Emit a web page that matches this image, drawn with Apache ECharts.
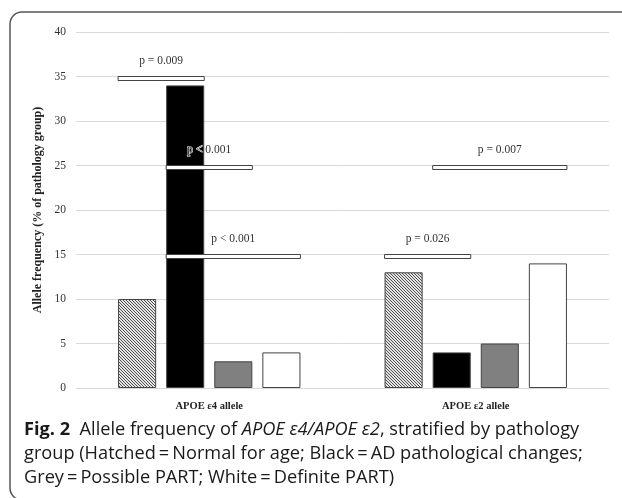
<!DOCTYPE html>
<html><head><meta charset="utf-8">
<script src="https://cdn.jsdelivr.net/npm/echarts@6/dist/echarts.min.js"></script>
<style>html,body{margin:0;padding:0;background:#fff}#c{width:622px;height:498px}</style>
</head><body><div id="c"></div>
<script>
// ---- data ----
const categories = ['APOE \u03b54 allele', 'APOE \u03b52 allele'];
const groupNames = ['Normal for age', 'AD pathological changes', 'Possible PART', 'Definite PART'];
const normalForAge = [10, 13];
const adChanges = [34, 4];
const possiblePART = [3, 5];
const definitePART = [4, 14];
const yMin = 0, yMax = 40, yStep = 5;
// significance brackets
const sigCategory = [0, 0, 0, 1, 1];
const sigFromBar = [0, 1, 1, 0, 1];
const sigToBar = [1, 2, 3, 1, 3];
const sigValue = [35, 25, 15, 15, 25];
const sigText = ['p = 0.009', 'p < 0.001', 'p < 0.001', 'p = 0.026', 'p = 0.007'];

// ---- styling ----
const BAR_W = 0.1429;   // fraction of band
const BAR_GAP = 0.263;  // fraction of bar width
const SERIF = '"Liberation Serif", "DejaVu Serif", serif';
const SANS = '"Open Sans", "Noto Sans", sans-serif';
const CAP_SIZE = 18.2;

function hatch() {
  const c = document.createElement('canvas');
  c.width = 6; c.height = 6;
  const ctx = c.getContext('2d');
  const img = ctx.createImageData(6, 6);
  for (let y = 0; y < 6; y++) for (let x = 0; x < 6; x++) {
    const d = ((x - y) % 3 + 3) % 3 === 0;
    const v = d ? 80 : 228;
    const i = (y * 6 + x) * 4;
    img.data[i] = v; img.data[i + 1] = v; img.data[i + 2] = v; img.data[i + 3] = 255;
  }
  ctx.putImageData(img, 0, 0);
  return c;
}

const fills = [{ image: hatch(), repeat: 'repeat' }, '#000000', '#808080', '#ffffff'];
const values = [normalForAge, adChanges, possiblePART, definitePART];

const chart = echarts.init(document.getElementById('c'), null, { renderer: 'canvas' });

const barSeries = values.map((vals, k) => ({
  name: groupNames[k],
  type: 'bar',
  data: vals,
  barWidth: (BAR_W * 100) + '%',
  barGap: (BAR_GAP * 100) + '%',
  itemStyle: { color: fills[k], borderColor: '#444', borderWidth: 1 },
  z: 2
}));

const sigData = sigCategory.map((c, i) => [c, sigValue[i], sigFromBar[i], sigToBar[i]]);

const sigSeries = {
  type: 'custom',
  data: sigData,
  encode: { x: 0, y: 1 },
  z: 5,
  renderItem: function (params, api) {
    const cat = api.value(0), v = api.value(1), from = api.value(2), to = api.value(3);
    const pt = api.coord([cat, v]);
    const band = api.size([1, 0])[0];
    const w = band * BAR_W, g = w * BAR_GAP;
    const total = 4 * w + 3 * g;
    const x0 = pt[0] - total / 2 + from * (w + g);
    const x1 = pt[0] - total / 2 + to * (w + g) + w;
    return {
      type: 'group',
      children: [
        { type: 'rect', shape: { x: x0, y: pt[1], width: x1 - x0, height: 4 },
          style: { fill: '#fff', stroke: '#444', lineWidth: 1 } },
        { type: 'text',
          style: { text: sigText[params.dataIndex], x: (x0 + x1) / 2, y: pt[1] - 16,
            align: 'center', verticalAlign: 'middle', textAlign: 'center', textVerticalAlign: 'middle',
            fontFamily: SERIF, fontSize: 11.5, fill: '#333', stroke: '#fff', lineWidth: 1 } }
      ]
    };
  }
};

const rich = {
  b: { fontFamily: SANS, fontSize: CAP_SIZE, fontWeight: 'bold', fill: '#1a1a1a', color: '#1a1a1a' },
  i: { fontFamily: SANS, fontSize: CAP_SIZE, fontStyle: 'italic', fill: '#1a1a1a', color: '#1a1a1a' },
  n: { fontFamily: SANS, fontSize: CAP_SIZE, fill: '#1a1a1a', color: '#1a1a1a' }
};
function cap(text, y) {
  return { type: 'text', left: 24, top: y,
    style: { text: text, rich: rich, fontFamily: SANS, fontSize: CAP_SIZE, fill: '#1a1a1a' } };
}

chart.setOption({
  animation: false,
  backgroundColor: '#fff',
  grid: { left: 76, right: 13, top: 32, bottom: 110 },
  xAxis: {
    type: 'category',
    data: categories,
    axisLine: { show: false },
    axisTick: { show: false },
    axisLabel: { fontFamily: SERIF, fontSize: 10.5, fontWeight: 'bold', color: '#222', margin: 13 }
  },
  yAxis: {
    type: 'value',
    min: yMin, max: yMax, interval: yStep,
    name: 'Allele frequency (% of pathology group)',
    nameLocation: 'middle',
    nameGap: 27,
    nameTextStyle: { fontFamily: SERIF, fontSize: 12, fontWeight: 'bold', color: '#222' },
    axisLine: { show: false },
    axisTick: { show: false },
    axisLabel: { fontFamily: SERIF, fontSize: 11.5, color: '#333', margin: 10 },
    splitLine: { lineStyle: { color: '#d9d9d9', width: 1 } }
  },
  series: barSeries.concat([sigSeries]),
  graphic: [
    { type: 'rect', shape: { x: 10, y: 12, width: 700, height: 488, r: 12 },
      style: { fill: 'none', stroke: '#555', lineWidth: 1.5 }, z: 100 },
    cap('{b|Fig. 2}{n|  Allele frequency of }{i|APOE \u03b54/APOE \u03b52}{n|, stratified by pathology}', 421),
    cap('{n|group (Hatched\u2009=\u2009Normal for age; Black\u2009=\u2009AD pathological changes;}', 444.5),
    cap('{n|Grey\u2009=\u2009Possible PART; White\u2009=\u2009Definite PART)}', 469)
  ]
});
</script>
</body></html>
